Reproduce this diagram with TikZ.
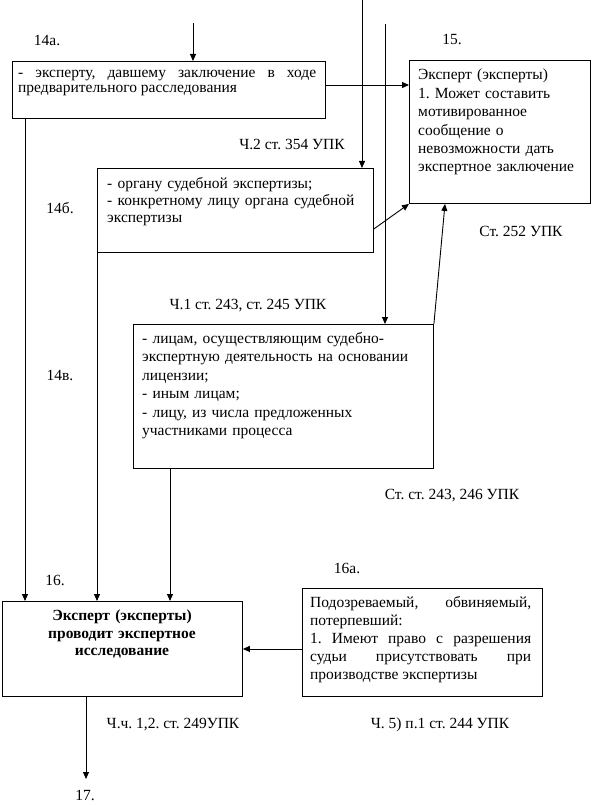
\documentclass[tikz,border=0pt]{standalone}
\usepackage{fontspec}
\setmainfont{Liberation Serif}
\usetikzlibrary{arrows.meta,calc}
\begin{document}
\frenchspacing
\begin{tikzpicture}[x=1pt,y=-1pt,
  box/.style={draw,line width=0.9pt,anchor=north west,inner sep=0pt},
  txt/.style={anchor=north west,inner sep=0pt,font=\fontsize{15.5}{18.4}\selectfont},
  lbl/.style={anchor=base,inner sep=0pt,font=\fontsize{15.5}{18}\selectfont},
  arr/.style={line width=0.9pt,-{Triangle[length=7pt,width=6pt]}},
  ln/.style={line width=0.9pt}]
\useasboundingbox (0,0) rectangle (601,805);
% boxes
\node[box,minimum width=313pt,minimum height=57pt] (b14a) at (12,61) {};
\node[box,minimum width=181pt,minimum height=143pt] (b15) at (409,60) {};
\node[box,minimum width=276pt,minimum height=84pt] (b14b) at (97,168) {};
\node[box,minimum width=300pt,minimum height=144pt] (bl) at (133,324) {};
\node[box,minimum width=240pt,minimum height=95pt] (b16) at (2,601) {};
\node[box,minimum width=240pt,minimum height=108pt] (b16a) at (302,588) {};
% texts
\node[txt,text width=298pt,align=justify,font=\fontsize{15.5}{15}\selectfont] (t14a) at (18,70)
  {- эксперту, давшему заключение в ходе\linebreak предварительного расследования};
\node[txt,text width=175pt,align=left] (t15) at (418,69)
  {Эксперт (эксперты)\\1. Может составить\\мотивированное\\сообщение о\\невозможности дать\\экспертное заключение};
\node[txt,text width=262pt,align=left,font=\fontsize{15.5}{17}\selectfont] (t14b) at (107,177)
  {- органу судебной экспертизы;\\- конкретному лицу органа судебной\\экспертизы};
\node[txt,text width=285pt,align=left,font=\fontsize{15.5}{18.5}\selectfont] (tl) at (142,332)
  {- лицам, осуществляющим судебно-\\экспертную деятельность на основании\\лицензии;\\- иным лицам;\\- лицу, из числа предложенных\\участниками процесса};
\node[txt,text width=221pt,align=justify,font=\fontsize{15.5}{18}\selectfont] (t16a) at (310,596)
  {Подозреваемый, обвиняемый,\linebreak потерпевший:\\1. Имеют право с разрешения\linebreak судьи присутствовать при\linebreak производстве экспертизы};
\node[txt,anchor=north,text width=230pt,align=center,font=\fontsize{15.5}{17.5}\bfseries\selectfont] (t16) at (122,610)
  {Эксперт (эксперты)\\проводит экспертное\\исследование};
% labels
\node[lbl] (l14a) at (47,46) {14а.};
\node[lbl] (l15) at (452,45) {15.};
\node[lbl] (l354) at (292,150) {Ч.2 ст. 354 УПК};
\node[lbl] (l14b) at (60,213) {14б.};
\node[lbl] (l252) at (521,236) {Ст. 252 УПК};
\node[lbl] (l243) at (248,309) {Ч.1 ст. 243, ст. 245 УПК};
\node[lbl] (l14v) at (60,380) {14в.};
\node[lbl] (l246) at (452,499) {Ст. ст. 243, 246 УПК};
\node[lbl] (l16) at (55,585) {16.};
\node[lbl] (l16a) at (347,573) {16а.};
\node[lbl] (l249) at (173,728) {Ч.ч. 1,2. ст. 249УПК};
\node[lbl] (l244) at (440,728) {Ч. 5) п.1 ст. 244 УПК};
\node[lbl] (l17) at (85,800) {17.};
% free ends
\coordinate (c1) at (193,23);
\coordinate (c2) at (362,0);
\coordinate (c3) at (385,24);
\coordinate (c17) at (86,779);
% connectors
\draw[arr] (c1) -- (c1 |- b14a.north);
\draw[arr] (b14a.east |- 0,85) -- (b15.west |- 0,85);
\draw[arr] (c2) -- (c2 |- b14b.north);
\draw[arr] (c3) -- (c3 |- bl.north);
\draw[arr] ($(b14b.south east)+(0,-24)$) -- (b15.south west);
\draw[arr] (bl.north east) -- (b15.south -| 445,0);
\draw[arr] (b14a.south -| 25,0) -- (b16.north -| 25,0);
\draw[arr] (b14b.south west) -- (b16.north -| b14b.south west);
\draw[arr] (bl.south -| 170,0) -- (b16.north -| 170,0);
\draw[arr] (b16a.west |- b16.east) -- (b16.east);
\draw[arr] (b16.south -| c17) -- (c17);
\end{tikzpicture}
\end{document}
